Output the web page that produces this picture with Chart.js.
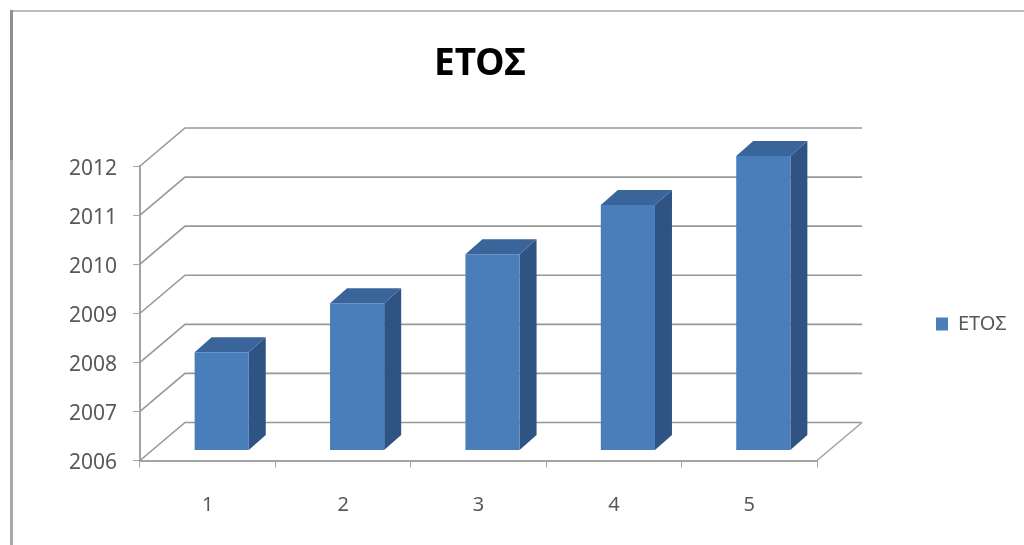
<!DOCTYPE html>
<html lang="el">

<head>
    <meta charset="UTF-8">
    <title>ΕΤΟΣ</title>
    <script src="https://cdn.jsdelivr.net/npm/chart.js"></script>
    <style>
        html, body { margin: 0; padding: 0; background: #fff; overflow: hidden; }
        #wrap { position: relative; width: 1024px; height: 545px; }
        #frame-top { position: absolute; left: 10px; top: 10px; right: 0; height: 2px; background: #bcbcbc; }
        #frame-left { position: absolute; left: 10px; top: 10px; bottom: 0; width: 3px; background: #a8a8a8; }
        #frame-dark { position: absolute; left: 10px; top: 10px; height: 150px; width: 3px; background: #8f8f8f; }
        canvas { position: absolute; left: 0; top: 0; filter: blur(0.6px); }
    </style>
</head>

<body>
    <div id="wrap">
        <div id="frame-top"></div>
        <div id="frame-left"></div>
        <div id="frame-dark"></div>
        <canvas id="chart" width="1024" height="545"></canvas>
    </div>

    <script>
        const title = 'ΕΤΟΣ';
        const seriesName = 'ΕΤΟΣ';
        const categories = ['1', '2', '3', '4', '5'];
        const values = [2008, 2009, 2010, 2011, 2012];
        const axisMin = 2006;
        const axisMax = 2012;

        const gridColor = '#989898';
        const axisColor = '#a4a4a4';
        const labelColor = '#585858';
        const barColor = '#4a7ebb';
        const sideColor = '#2f5484';
        const topColor = '#3a659a';

        // depth of the back wall and of the bars (fake 3d)
        const wallDx = 45, wallDy = 38;
        const barDx = 14, barDy = 10;
        const sideDx = 17, sideDy = 15;

        const fake3d = {
            id: 'fake3d',
            afterLayout(chart) {
                // title and legend do not sit where the layout puts them
                chart.titleBlock.left += 2.5;
                chart.legend.left = 926;
                chart.legend.right = 1024;
                chart.legend.top = 304;
                chart.legend.bottom = 345;
            },
            beforeDatasetsDraw(chart) {
                const ctx = chart.ctx;
                const y = chart.scales.y;
                const { left, right, bottom } = chart.chartArea;
                ctx.save();
                ctx.strokeStyle = gridColor;
                ctx.lineWidth = 1.6;
                y.ticks.forEach(t => {
                    const py = y.getPixelForValue(t.value);
                    ctx.beginPath();
                    ctx.moveTo(left, py);
                    ctx.lineTo(left + wallDx, py - wallDy);
                    ctx.lineTo(right + wallDx, py - wallDy);
                    ctx.stroke();
                });
                ctx.strokeStyle = axisColor;
                ctx.beginPath();
                ctx.moveTo(right, bottom);
                ctx.lineTo(right + wallDx, bottom - wallDy);
                ctx.stroke();
                ctx.restore();
            },
            beforeDatasetDraw(chart) {
                const ctx = chart.ctx;
                ctx.save();
                ctx.translate(barDx, -barDy);
                chart.getDatasetMeta(0).data.forEach(bar => {
                    const l = bar.x - bar.width / 2;
                    const r = bar.x + bar.width / 2;
                    ctx.fillStyle = sideColor;
                    ctx.beginPath();
                    ctx.moveTo(r, bar.y);
                    ctx.lineTo(r + sideDx, bar.y - sideDy);
                    ctx.lineTo(r + sideDx, bar.base - sideDy);
                    ctx.lineTo(r, bar.base);
                    ctx.closePath();
                    ctx.fill();
                    ctx.fillStyle = topColor;
                    ctx.beginPath();
                    ctx.moveTo(l, bar.y);
                    ctx.lineTo(l + sideDx, bar.y - sideDy);
                    ctx.lineTo(r + sideDx, bar.y - sideDy);
                    ctx.lineTo(r, bar.y);
                    ctx.closePath();
                    ctx.fill();
                });
            },
            afterDatasetDraw(chart) {
                chart.ctx.restore();
            }
        };

        new Chart(document.getElementById('chart'), {
            type: 'bar',
            data: {
                labels: categories,
                datasets: [{
                    label: seriesName,
                    data: values,
                    base: axisMin,
                    backgroundColor: barColor,
                    clip: false,
                    barPercentage: 1,
                    categoryPercentage: 0.4
                }]
            },
            options: {
                responsive: false,
                animation: false,
                layout: { padding: { left: 0, right: 207, top: 42, bottom: 0 } },
                plugins: {
                    tooltip: { enabled: false },
                    title: {
                        display: true,
                        text: title,
                        fullSize: false,
                        color: '#000',
                        font: { family: 'Noto Sans', size: 37, weight: 'bold', lineHeight: 1.2 },
                        padding: { top: 0, bottom: 79.6 }
                    },
                    legend: {
                        position: 'chartArea',
                        align: 'start',
                        labels: {
                            boxWidth: 12,
                            boxHeight: 13,
                            padding: 10,
                            color: labelColor,
                            font: { family: 'Noto Sans', size: 20 }
                        }
                    }
                },
                scales: {
                    x: {
                        afterFit(scale) { scale.height = 84.5; },
                        border: { color: axisColor, width: 2 },
                        grid: { drawOnChartArea: false, color: axisColor, tickLength: 7 },
                        ticks: {
                            color: labelColor,
                            padding: 26,
                            maxRotation: 0,
                            font: { family: 'Noto Sans', size: 20 }
                        }
                    },
                    y: {
                        min: axisMin,
                        max: axisMax,
                        afterFit(scale) { scale.width = 140; },
                        border: { color: axisColor, width: 2 },
                        grid: { drawOnChartArea: false, color: axisColor, tickLength: 7 },
                        ticks: {
                            stepSize: 1,
                            color: labelColor,
                            padding: 16,
                            labelOffset: 3,
                            font: { family: 'Noto Sans', size: 21 },
                            callback: v => String(v)
                        }
                    }
                }
            },
            plugins: [fake3d]
        });
    </script>
</body>

</html>
